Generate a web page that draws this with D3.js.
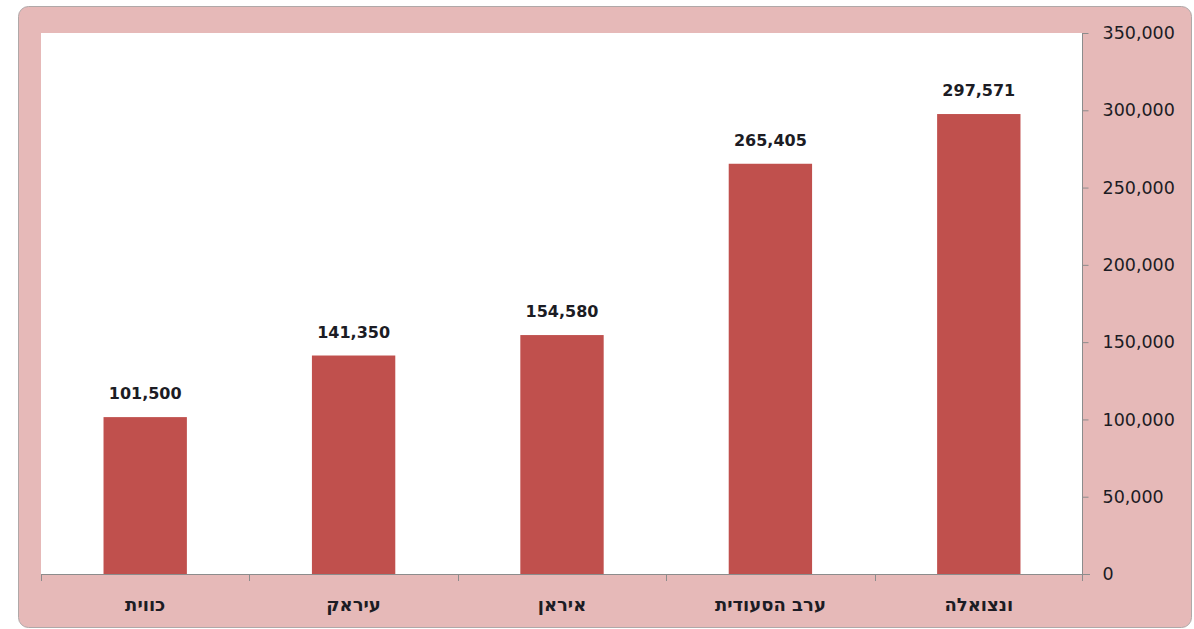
<!DOCTYPE html>
<html><head><meta charset="utf-8">
<script src="https://cdn.jsdelivr.net/npm/d3@7"></script>
<style>body{margin:0;background:#fff;}svg{display:block;}</style>
</head><body>
<svg id="c" width="1194" height="629"></svg>
<script>
const categories = ["כווית", "עיראק", "איראן", "ערב הסעודית", "ונצואלה"];
const values = [101500, 141350, 154580, 265405, 297571];
const yTicks = [0, 50000, 100000, 150000, 200000, 250000, 300000, 350000];

const svg = d3.select("#c");
const plot = {left: 41, right: 1083, top: 33, bottom: 574};
const fmt = d3.format(",");

svg.append("rect").attr("x", 18.5).attr("y", 6.5).attr("width", 1173).attr("height", 621)
  .attr("rx", 10).attr("fill", "#e6b9b8").attr("stroke", "#b0a8a8").attr("stroke-width", 1);
svg.append("rect").attr("x", plot.left).attr("y", plot.top)
  .attr("width", plot.right - plot.left).attr("height", plot.bottom - plot.top).attr("fill", "#fff");

const x = d3.scaleBand().domain(categories).range([plot.left, plot.right]).padding(0);
const y = d3.scaleLinear().domain([0, 350000]).range([plot.bottom, plot.top]);

const bw = x.bandwidth() * 0.4;
svg.selectAll("rect.bar").data(values).join("rect").attr("class", "bar")
  .attr("x", (d, i) => x(categories[i]) + (x.bandwidth() - bw) / 2)
  .attr("y", d => y(d)).attr("width", bw).attr("height", d => y(0) - y(d))
  .attr("fill", "#c0504d");

svg.selectAll("text.val").data(values).join("text").attr("class", "val")
  .attr("x", (d, i) => x(categories[i]) + x.bandwidth() / 2)
  .attr("y", d => y(d) - 18)
  .attr("text-anchor", "middle")
  .attr("font-family", "DejaVu Sans").attr("font-weight", "bold").attr("font-size", 16)
  .attr("fill", "#1c1c24").text(d => fmt(d));

// Y axis on the right
const yAxis = d3.axisRight(y).tickValues(yTicks).tickSize(6).tickPadding(14).tickFormat(fmt);
const ga = svg.append("g").attr("transform", `translate(${plot.right - 0.5},0)`).call(yAxis);
ga.select(".domain").remove();
ga.selectAll(".tick line").attr("stroke", "#8c8c8c");
ga.selectAll(".tick text").attr("font-family", "DejaVu Sans").attr("font-size", 17.5).attr("fill", "#1c1c24");
svg.append("line").attr("x1", plot.right - 0.5).attr("x2", plot.right - 0.5)
  .attr("y1", plot.top).attr("y2", plot.bottom + 7).attr("stroke", "#8c8c8c");

// X axis baseline
svg.append("line").attr("x1", plot.left).attr("x2", plot.right + 7)
  .attr("y1", plot.bottom + 0.5).attr("y2", plot.bottom + 0.5).attr("stroke", "#8c8c8c");
const bounds = categories.map(c => x(c));
svg.selectAll("line.xt").data(bounds).join("line").attr("class", "xt")
  .attr("x1", d => Math.round(d) + 0.5).attr("x2", d => Math.round(d) + 0.5)
  .attr("y1", plot.bottom).attr("y2", plot.bottom + 7).attr("stroke", "#8c8c8c");

svg.selectAll("text.cat").data(categories).join("text").attr("class", "cat")
  .attr("x", d => x(d) + x.bandwidth() / 2).attr("y", 611)
  .attr("text-anchor", "middle")
  .attr("font-family", "DejaVu Sans").attr("font-weight", "bold").attr("font-size", 18).attr("fill", "#1c1c24")
  .text(d => d);
</script>
</body></html>
